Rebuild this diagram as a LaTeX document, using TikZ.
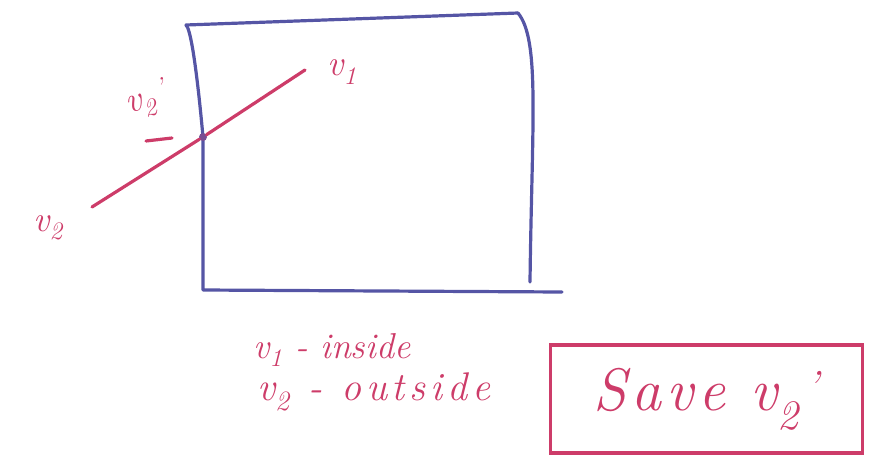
\documentclass[tikz,border=0pt]{standalone}
\usepackage{fontspec}
\usetikzlibrary{calc}
\definecolor{penblue}{RGB}{85,85,165}
\definecolor{penred}{RGB}{205,60,105}
\newcommand{\vsub}[1]{v\textsubscript{#1}}
\newfontfamily\widefont[LetterSpace=12]{Latin Modern Roman}
\newfontfamily\savefont[LetterSpace=8]{Latin Modern Roman}
\begin{document}
\begin{tikzpicture}[x=1pt,y=-1pt,
  blueline/.style={draw=penblue,line width=3.2pt,line cap=round,line join=round},
  redline/.style={draw=penred,line width=3.2pt,line cap=round},
  lbl/.style={text=penred,font=\itshape\fontsize{36}{38}\selectfont,inner sep=1pt},
  widelbl/.style={text=penred,font=\widefont\itshape\fontsize{40}{42}\selectfont,inner sep=1pt},
  biglbl/.style={text=penred,font=\savefont\itshape\fontsize{60}{62}\selectfont,inner sep=1pt},
  dotmark/.style={circle,fill=penblue!70!penred,inner sep=0pt,minimum size=8pt}]
\useasboundingbox (0,0) rectangle (875,469);
% window rectangle
\coordinate (tl) at (186,25);
\coordinate (tr) at (518,13);
\coordinate (bl) at (203,290);
\coordinate (br) at (562,292);
\draw[blueline] (tl) -- (tr);
\draw[blueline] (tl) .. controls (190,28) and (196,60) .. (203,137) -- (bl) -- (br);
\draw[blueline] (tr) .. controls (540,40) and (532,120) .. (530,282);
% segment
\coordinate (v1) at (305,70);
\coordinate (v2) at (92,207);
\node[dotmark] (p) at (203,137) {};
\draw[redline] (v2) -- (p) -- (v1);
\node[lbl] (v1l) at (342,72) {\vsub{1}};
\node[lbl] (v2l) at (48,228) {\vsub{2}};
\node[lbl,rotate=15] (v2pl) at (146,100) {\vsub{2}\textsuperscript{\,\textquoteright}};
\coordinate (dashA) at (146,141);
\coordinate (dashB) at (172,138);
\draw[redline] (dashA) -- (dashB);
% text
\node[lbl,anchor=west] (t1) at (252,350) {\vsub{1} - inside};
\node[widelbl,anchor=west] (t2) at (256,392) {\vsub{2} - outside};
\node[biglbl,draw=penred,line width=3.2pt,anchor=west,minimum width=312pt,minimum height=108pt] (save) at (549,399) {Save \vsub{2}\textsuperscript{\,\textquoteright}};
\end{tikzpicture}
\end{document}
